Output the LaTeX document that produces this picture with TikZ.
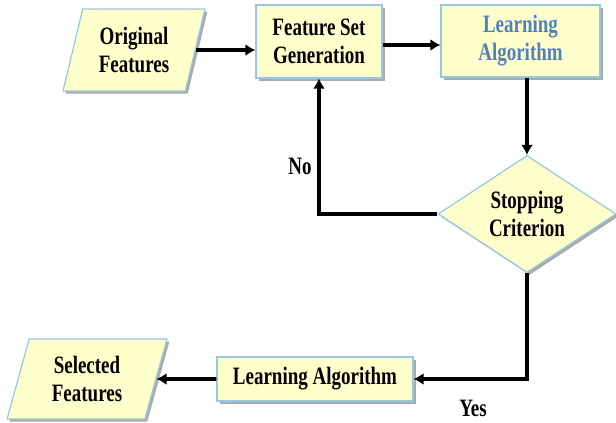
\documentclass[tikz,border=0pt]{standalone}
\usepackage{fontspec}
\setmainfont{Liberation Serif}[FakeStretch=0.76]
\usetikzlibrary{shapes.geometric,shadows,arrows.meta}
\definecolor{boxFill}{RGB}{255,255,204}
\definecolor{boxLine}{RGB}{150,200,225}
\definecolor{boxShade}{RGB}{150,150,150}
\definecolor{laBlue}{RGB}{79,129,189}

\begin{document}
\begin{tikzpicture}[x=1pt,y=-1pt,
  font=\fontsize{25}{28}\selectfont\bfseries,
  block/.style={rectangle,draw=boxLine,line width=1.2pt,fill=boxFill,align=center,inner sep=2pt,
    drop shadow={shadow xshift=2.5pt,shadow yshift=-2.5pt,fill=boxShade,opacity=0.8}},
  data/.style={block,trapezium,trapezium left angle=74,trapezium right angle=106,trapezium stretches=true},
  test/.style={block,diamond,shape aspect=1.5,inner sep=0pt},
  flow/.style={line width=3.6pt,-{Latex[length=10pt,width=12pt]}}]
\useasboundingbox (0,0) rectangle (616,423);
\node[data,minimum width=142,minimum height=82] (orig) at (134,50) {Original\\Features};
\node[block,minimum width=126,minimum height=73] (gen) at (319,41.5) {Feature Set\\Generation};
\node[block,minimum width=159,minimum height=72,text=laBlue] (learn) at (520.5,41) {Learning\\Algorithm};
\node[test,minimum width=178,minimum height=117] (stop) at (527,214) {Stopping\\Criterion};
\node[block,minimum width=196,minimum height=44] (final) at (315,379) {Learning Algorithm};
\node[data,minimum width=160,minimum height=80] (sel) at (87,379) {Selected\\Features};
\draw[flow] (orig.east) -- (orig.east -| gen.west);
\draw[flow] (gen.east |- 0,45) -- (learn.west |- 0,45);
\draw[flow] (stop.north |- learn.south) -- (stop.north);
\draw[flow] (stop.west) -| (gen.south);
\draw[flow] (stop.south) |- (final.east);
\draw[flow] (final.west) -- (sel.east);
\node (no) at (300,166) {No};
\node (yes) at (473,408) {Yes};
\end{tikzpicture}
\end{document}
